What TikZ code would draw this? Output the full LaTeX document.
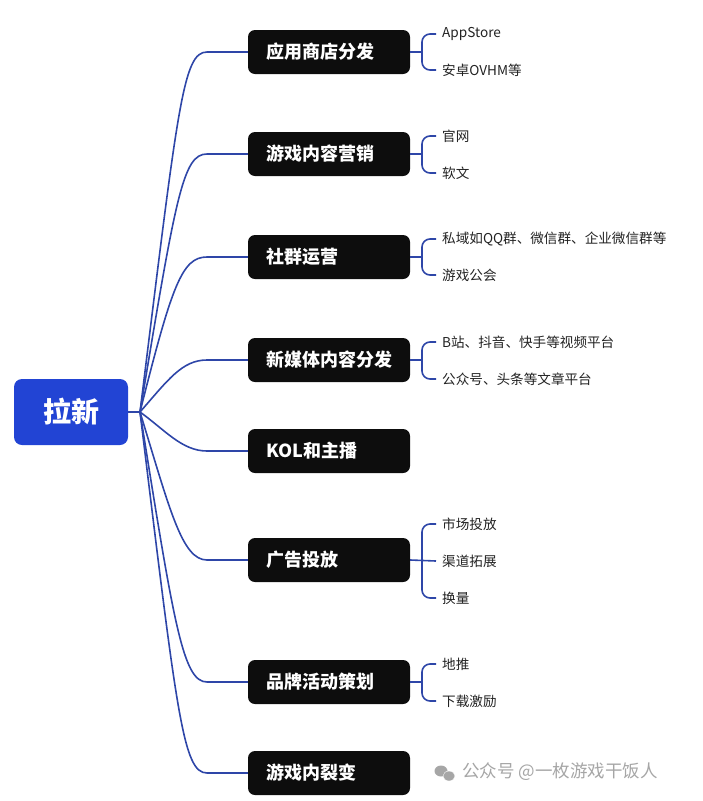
\documentclass[tikz,border=0pt]{standalone}
\usepackage{fontspec}
\usetikzlibrary{shapes.geometric}
\setmainfont{Noto Sans CJK SC}
\tikzset{
  rootbox/.style={draw=none,fill=rootblue,rounded corners=8pt,minimum width=114pt,minimum height=66pt,
    text=white,font=\bfseries\fontsize{28}{30}\selectfont},
  branchbox/.style={draw=none,fill=boxblack,rounded corners=7pt,minimum width=162pt,minimum height=44pt,
    inner xsep=18pt,text=white,align=left,font=\bfseries\fontsize{18}{20}\selectfont},
  leaf/.style={anchor=west,inner xsep=6pt,inner ysep=0pt,text=leafgrey,font=\fontsize{13.6}{15}\selectfont},
  link/.style={draw=linkblue,line width=1.6pt},
  fork/.style={draw=linkblue,line width=1.6pt,rounded corners=8pt}
}
\definecolor{rootblue}{HTML}{2244D4}
\definecolor{boxblack}{HTML}{0D0D0D}
\definecolor{linkblue}{HTML}{2E46A8}
\definecolor{leafgrey}{HTML}{222222}
\definecolor{markgrey}{HTML}{A6A6A6}
\begin{document}
\begin{tikzpicture}[x=1pt,y=-1pt]
      \useasboundingbox (0,0) rectangle (702,801);
      \node[rootbox] (root) at (71,412) {拉新};
      \coordinate (hub) at (140,412);
      \node[branchbox] (b1) at (329,52) {\makebox[126pt][l]{应用商店分发}};
      \node[branchbox] (b2) at (329,154) {\makebox[126pt][l]{游戏内容营销}};
      \node[branchbox] (b3) at (329,257) {\makebox[126pt][l]{社群运营}};
      \node[branchbox] (b4) at (329,360) {\makebox[126pt][l]{新媒体内容分发}};
      \node[branchbox] (b5) at (329,451) {\makebox[126pt][l]{KOL和主播}};
      \node[branchbox] (b6) at (329,560) {\makebox[126pt][l]{广告投放}};
      \node[branchbox] (b7) at (329,682) {\makebox[126pt][l]{品牌活动策划}};
      \node[branchbox] (b8) at (329,773) {\makebox[126pt][l]{游戏内裂变}};
      \node[leaf] (l1) at (436,34) {AppStore};
      \node[leaf] (l2) at (436,70) {安卓OVHM等};
      \node[leaf] (l3) at (436,136) {官网};
      \node[leaf] (l4) at (436,173) {软文};
      \node[leaf] (l5) at (436,239) {私域如QQ群、微信群、企业微信群等};
      \node[leaf] (l6) at (436,275) {游戏公会};
      \node[leaf] (l7) at (436,342) {B站、抖音、快手等视频平台};
      \node[leaf] (l8) at (436,379) {公众号、头条等文章平台};
      \node[leaf] (l9) at (436,524) {市场投放};
      \node[leaf] (l10) at (436,561) {渠道拓展};
      \node[leaf] (l11) at (436,598) {换量};
      \node[leaf] (l12) at (436,664) {地推};
      \node[leaf] (l13) at (436,701) {下载激励};
      \coordinate (j1) at (422,52);
      \coordinate (j2) at (422,154);
      \coordinate (j3) at (422,257);
      \coordinate (j4) at (422,360);
      \coordinate (j6) at (422,560);
      \coordinate (j7) at (422,682);
      \coordinate (k1) at (207,52);
      \coordinate (k2) at (207,154);
      \coordinate (k3) at (207,257);
      \coordinate (k4) at (207,360);
      \coordinate (k5) at (207,451);
      \coordinate (k6) at (207,560);
      \coordinate (k7) at (207,682);
      \coordinate (k8) at (207,773);
      % trunk lines out of the root
      \begin{scope}[link]
        \draw (root.east) -- (hub);
        \draw (hub) .. controls (178,105) and (183,52) .. (k1) -- (b1.west);
        \draw (hub) .. controls (176,195) and (183,154) .. (k2) -- (b2.west);
        \draw (hub) .. controls (172,285) and (182,257) .. (k3) -- (b3.west);
        \draw (hub) .. controls (168,380) and (182,360) .. (k4) -- (b4.west);
        \draw (hub) .. controls (165,430) and (182,451) .. (k5) -- (b5.west);
        \draw (hub) .. controls (170,510) and (182,560) .. (k6) -- (b6.west);
        \draw (hub) .. controls (174,625) and (183,682) .. (k7) -- (b7.west);
        \draw (hub) .. controls (177,715) and (183,773) .. (k8) -- (b8.west);
      \end{scope}
      % forks towards the leaves
      \begin{scope}[link]
        \draw (b1.east) -- (j1);
        \draw (b2.east) -- (j2);
        \draw (b3.east) -- (j3);
        \draw (b4.east) -- (j4);
        \draw (b6.east) -- (l10.west);
        \draw (b7.east) -- (j7);
      \end{scope}
      \begin{scope}[fork]
        \draw (l1.west) -| (j1) |- (l2.west);
        \draw (l3.west) -| (j2) |- (l4.west);
        \draw (l5.west) -| (j3) |- (l6.west);
        \draw (l7.west) -| (j4) |- (l8.west);
        \draw (l9.west) -| (j6) |- (l11.west);
        \draw (l12.west) -| (j7) |- (l13.west);
      \end{scope}
      % mark in the corner
      \node[ellipse,inner sep=0pt,fill=markgrey,minimum width=13pt,minimum height=11pt] (m1) at (441,771) {};
      \node[ellipse,inner sep=0pt,fill=markgrey,draw=white,minimum width=12pt,minimum height=10pt] (m2) at (449,776) {};
      \node[anchor=west,inner sep=0pt,text=markgrey,font=\fontsize{17.5}{19}\selectfont] (mark) at (462,772) {公众号 @一枚游戏干饭人};
    \end{tikzpicture}
\end{document}
